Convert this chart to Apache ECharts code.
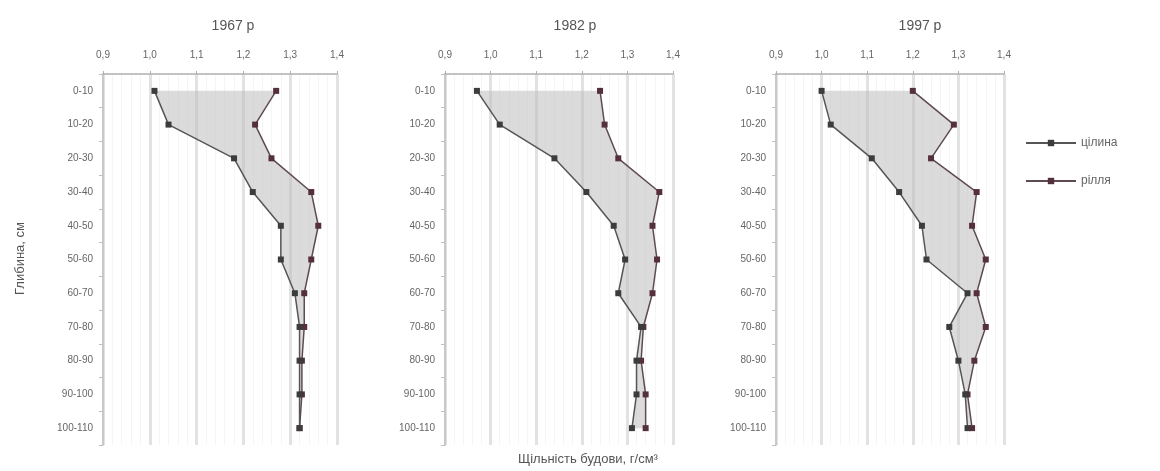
<!DOCTYPE html>
<html>
<head>
<meta charset="utf-8">
<script src="https://cdn.jsdelivr.net/npm/echarts@6/dist/echarts.min.js"></script>
<style>
  html, body { margin: 0; padding: 0; background: #fff; }
  #chart { width: 1160px; height: 471px; }
</style>
</head>
<body>
<div id="chart"></div>
<script>
// глибина шарів
var depths = ['0-10', '10-20', '20-30', '30-40', '40-50', '50-60', '60-70', '70-80', '80-90', '90-100', '100-110'];
var years = ['1967 р', '1982 р', '1997 р'];

// щільність будови, г/см3
var virgin1967 = [1.01, 1.04, 1.18, 1.22, 1.28, 1.28, 1.31, 1.32, 1.32, 1.32, 1.32];
var arable1967 = [1.27, 1.225, 1.26, 1.345, 1.36, 1.345, 1.33, 1.33, 1.325, 1.325, 1.32];

var virgin1982 = [0.97, 1.02, 1.14, 1.21, 1.27, 1.295, 1.28, 1.33, 1.32, 1.32, 1.31];
var arable1982 = [1.24, 1.25, 1.28, 1.37, 1.355, 1.365, 1.355, 1.335, 1.33, 1.34, 1.34];

var virgin1997 = [1.0, 1.02, 1.11, 1.17, 1.22, 1.23, 1.32, 1.28, 1.30, 1.315, 1.32];
var arable1997 = [1.20, 1.29, 1.24, 1.34, 1.33, 1.36, 1.34, 1.36, 1.335, 1.32, 1.33];

var virginSets = [virgin1967, virgin1982, virgin1997];
var arableSets = [arable1967, arable1982, arable1997];

var FONT = 'Liberation Sans, Arial, sans-serif';
var grids = [
	{ left: 103, top: 74, width: 234, height: 371 },
	{ left: 445, top: 74, width: 228, height: 371 },
	{ left: 776, top: 74, width: 228, height: 371 }
];
var titlePos = [228, 570, 915];

var myEcharts = echarts.init(document.getElementById('chart'));

var xAxes = [], yAxes = [], series = [], titles = [];
grids.forEach(function (g, i) {
	xAxes.push({
		gridIndex: i,
		type: 'value',
		position: 'top',
		min: 0.9,
		max: 1.4,
		interval: 0.1,
		axisLine: { show: true, lineStyle: { color: '#b0b0b0', width: 1.5 } },
		axisTick: { show: true, length: 3, lineStyle: { color: '#b0b0b0' } },
		axisLabel: {
			color: '#666', fontSize: 10, fontFamily: FONT, margin: 14,
			formatter: function (v) { return v.toFixed(1).replace('.', ','); }
		},
		splitLine: { show: true, lineStyle: { color: '#e2e2e2', width: 3 } },
		minorTick: { show: false, splitNumber: 5 },
		minorSplitLine: { show: true, lineStyle: { color: '#f5f5f5', width: 1 } }
	});
	yAxes.push({
		gridIndex: i,
		type: 'category',
		inverse: true,
		data: depths,
		boundaryGap: true,
		axisLine: { show: true, lineStyle: { color: '#c8c8c8', width: 2 } },
		axisTick: { show: true, length: 4, lineStyle: { color: '#c0c0c0' } },
		axisLabel: { color: '#666', fontSize: 10, fontFamily: FONT, margin: 10 },
		splitLine: { show: false }
	});
	titles.push({
		text: years[i],
		left: titlePos[i],
		top: 14,
		textAlign: 'center',
		textStyle: { color: '#555', fontSize: 14, fontWeight: 'normal', fontFamily: FONT }
	});

	var virgin = virginSets[i], arable = arableSets[i];
	// заливка між кривими
	series.push({
		type: 'custom',
		xAxisIndex: i,
		yAxisIndex: i,
		silent: true,
		z: 1,
		data: [0],
		renderItem: function (params, api) {
			var pts = [];
			for (var k = 0; k < depths.length; k++) pts.push(api.coord([virgin[k], k]));
			for (var k = depths.length - 1; k >= 0; k--) pts.push(api.coord([arable[k], k]));
			return {
				type: 'polygon',
				shape: { points: pts },
				style: { fill: 'rgba(190,190,190,0.55)', stroke: 'none' }
			};
		}
	});
	series.push({
		name: 'рілля',
		type: 'line',
		xAxisIndex: i,
		yAxisIndex: i,
		z: 3,
		data: arable.map(function (v, k) { return [v, k]; }),
		symbol: 'rect',
		symbolSize: 6,
		lineStyle: { color: '#5e4a52', width: 1.5 },
		itemStyle: { color: '#55303c' }
	});
	series.push({
		name: 'цілина',
		type: 'line',
		xAxisIndex: i,
		yAxisIndex: i,
		z: 4,
		data: virgin.map(function (v, k) { return [v, k]; }),
		symbol: 'rect',
		symbolSize: 6,
		lineStyle: { color: '#555', width: 1.5 },
		itemStyle: { color: '#3c3c3c' }
	});
});

var option = {
	animation: false,
	backgroundColor: '#fff',
	title: titles,
	grid: grids,
	xAxis: xAxes,
	yAxis: yAxes,
	legend: {
		orient: 'vertical',
		left: 1020,
		top: 132,
		itemWidth: 50,
		itemHeight: 8,
		itemGap: 26,
		data: ['цілина', 'рілля'],
		textStyle: { color: '#666', fontSize: 12, fontFamily: FONT }
	},
	graphic: [
		{
			type: 'text',
			left: 14,
			top: 222,
			rotation: Math.PI / 2,
			style: { text: 'Глибина, см', fill: '#555', fontSize: 13, fontFamily: FONT }
		},
		{
			type: 'text',
			left: 518,
			top: 453,
			style: { text: 'Щільність будови, г/см³', fill: '#555', fontSize: 13, fontFamily: FONT }
		}
	],
	series: series
};
myEcharts.setOption(option);
</script>
</body>
</html>
